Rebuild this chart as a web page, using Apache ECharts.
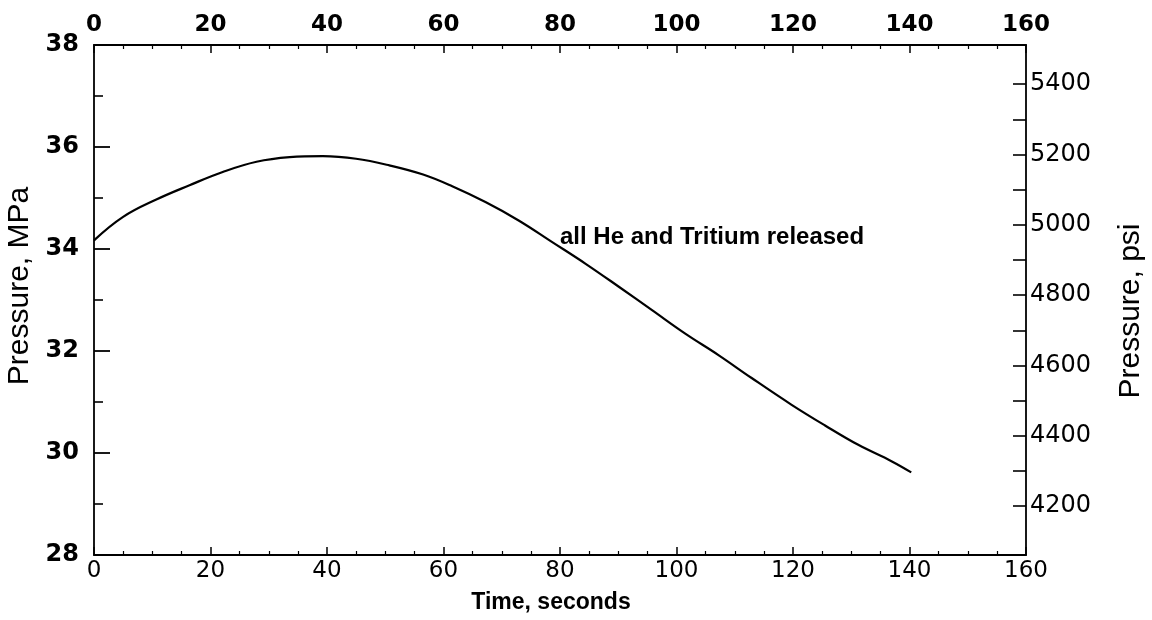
<!DOCTYPE html>
<html>
<head>
<meta charset="utf-8">
<script src="https://cdn.jsdelivr.net/npm/echarts@6/dist/echarts.min.js"></script>
<style>
  html, body { margin: 0; padding: 0; background: #fff; }
  #chart { width: 1152px; height: 620px; }
</style>
</head>
<body>
<div id="chart"></div>
<script>
// ---- data ----
const timeSeconds = [0, 5, 10.7, 16.4, 22.1, 27.9, 33.6, 39.3, 45.0, 50.7, 56.5, 61.5, 67.2, 72.9, 78.6, 84.4, 90.1, 95.8, 101.5, 107.2, 112.9, 119.7, 125.5, 131.2, 136.9, 140.3];
const pressureMPa = [34.17, 34.63, 34.97, 35.25, 35.51, 35.71, 35.80, 35.82, 35.77, 35.64, 35.46, 35.23, 34.92, 34.56, 34.14, 33.71, 33.26, 32.80, 32.34, 31.92, 31.47, 30.95, 30.54, 30.16, 29.84, 29.62];
const psiLabelValues = [4200, 4400, 4600, 4800, 5000, 5200, 5400];
const psiTickValues = [4200, 4300, 4400, 4500, 4600, 4700, 4800, 4900, 5000, 5100, 5200, 5300, 5400];
const annotationText = 'all He and Tritium released';
const annotationPoint = [80, 34.23];
const MPA_TO_PSI = 145.038;
const mpaMin = 28, mpaMax = 38;

const seriesData = timeSeconds.map((t, i) => [t, pressureMPa[i]]);

const black = '#000';
const axisLineStyle = { color: black, width: 1.8 };

const chart = echarts.init(document.getElementById('chart'), null, { renderer: 'canvas' });
chart.setOption({
  backgroundColor: '#fff',
  animation: false,
  grid: { left: 94, right: 126, top: 45, bottom: 65, containLabel: false, outerBoundsMode: 'none' },
  xAxis: [
    {
      type: 'value', position: 'bottom', min: 0, max: 160, interval: 20,
      name: 'Time, seconds', nameLocation: 'middle', nameGap: 36,
      nameTextStyle: { color: black, fontSize: 23, fontWeight: 'bold', fontFamily: 'Liberation Sans', padding: [0, 18, 0, 0] },
      axisLine: { show: true, onZero: false, lineStyle: axisLineStyle },
      axisTick: { show: true, inside: true, length: 8, lineStyle: { color: black, width: 1.5 } },
      minorTick: { show: true, splitNumber: 4, length: 4, lineStyle: { color: black, width: 1.2 } },
      axisLabel: { color: black, fontSize: 23, fontFamily: 'DejaVu Sans', margin: 5 },
      splitLine: { show: false }
    },
    {
      type: 'value', position: 'top', min: 0, max: 160, interval: 20,
      axisLine: { show: true, onZero: false, lineStyle: axisLineStyle },
      axisTick: { show: true, inside: true, length: 8, lineStyle: { color: black, width: 1.5 } },
      minorTick: { show: true, splitNumber: 4, length: 4, lineStyle: { color: black, width: 1.2 } },
      axisLabel: { color: black, fontSize: 23, fontWeight: 'bold', fontFamily: 'DejaVu Sans', margin: 8 },
      splitLine: { show: false }
    }
  ],
  yAxis: [
    {
      type: 'value', position: 'left', min: mpaMin, max: mpaMax, interval: 2,
      name: 'Pressure, MPa', nameLocation: 'middle', nameRotate: 90, nameGap: 52,
      nameTextStyle: { color: black, fontSize: 30, fontFamily: 'Liberation Sans', padding: [0, 0, 0, 28] },
      axisLine: { show: true, onZero: false, lineStyle: axisLineStyle },
      axisTick: { show: true, inside: true, length: 16, lineStyle: { color: black, width: 1.8 } },
      minorTick: { show: true, splitNumber: 2, length: 9, lineStyle: { color: black, width: 1.6 } },
      axisLabel: { color: black, fontSize: 24, fontWeight: 'bold', fontFamily: 'DejaVu Sans', margin: 15 },
      splitLine: { show: false }
    },
    {
      type: 'value', position: 'right',
      min: mpaMin * MPA_TO_PSI, max: mpaMax * MPA_TO_PSI,
      name: 'Pressure, psi', nameLocation: 'middle', nameRotate: 90, nameGap: 90,
      nameTextStyle: { color: black, fontSize: 30, fontFamily: 'Liberation Sans', padding: [0, 22, 0, 0] },
      axisLine: { show: true, onZero: false, lineStyle: axisLineStyle },
      axisTick: { show: true, inside: true, length: 13, customValues: psiTickValues, lineStyle: { color: black, width: 1.6 } },
      axisLabel: { color: black, fontSize: 24, fontFamily: 'DejaVu Sans', margin: 4, customValues: psiLabelValues, formatter: v => String(Math.round(v)) },
      splitLine: { show: false }
    }
  ],
  series: [
    {
      type: 'line', xAxisIndex: 0, yAxisIndex: 0,
      data: seriesData, smooth: 0.4, showSymbol: false, symbol: 'none',
      lineStyle: { color: black, width: 2.2 },
      markPoint: {
        silent: true, symbol: 'circle', symbolSize: 0,
        label: { show: true, position: 'right', distance: 0, color: black, fontSize: 24, fontWeight: 'bold', fontFamily: 'Liberation Sans', formatter: annotationText },
        data: [{ coord: annotationPoint }]
      }
    }
  ]
});
</script>
</body>
</html>
